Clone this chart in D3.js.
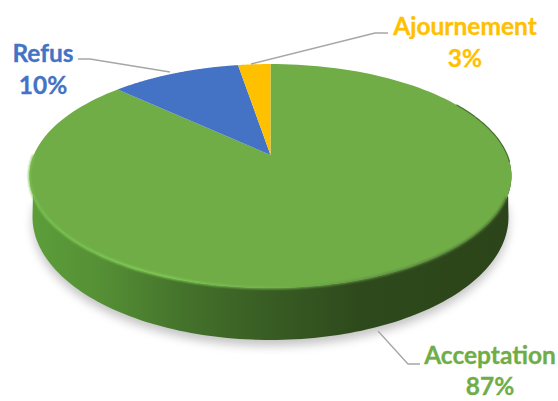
<!DOCTYPE html>
<html>
<head>
<meta charset="utf-8">
<script src="https://cdn.jsdelivr.net/npm/d3@7"></script>
<style>
  html, body { margin: 0; padding: 0; background: #fff; }
  svg { display: block; }
  text { font-family: Lato, "Open Sans", sans-serif; font-weight: 700; font-size: 24.5px; text-anchor: middle; stroke-width: 0.3; }
</style>
</head>
<body>
<div id="graph"></div>
<script>
// data
var categories = ["Acceptation", "Refus", "Ajournement"];
var shares = [87, 10.4, 2.6];

var colors = ["#70ad47", "#4472c4", "#ffc000"];
var svgWidth = 558, svgHeight = 401;

// label layout, same order as categories
var labelX = [490, 43, 465];
var labelY = [364, 62, 35];
var labelStep = [31, 32, 32];
var leaders = [
  [[378, 331], [408, 364], [420, 364]],
  [[78, 59], [90, 59], [170, 72]],
  [[388, 33], [375, 33], [251, 64]]
];

// tilted disc, the apex is not in the middle of the ellipse because of the perspective
var apex = {x: 270.5, y: 155};
var tilt = {rx: 236.7, ry: 108, k: 0.1875};
function project(a) {
  var u = Math.sin(a), v = Math.cos(a);
  var w = 1 + tilt.k * v;
  return [apex.x + tilt.rx * u / w, apex.y - tilt.ry * v / w];
}

// rim of the bottom of the disc
var base = {cx: 270.5, cy: 217, rx: 238, ry: 123};
function baseRim(a) {
  return [base.cx + base.rx * Math.sin(a), base.cy - base.ry * Math.cos(a)];
}

var line = d3.line();
function sweep(a0, a1, n) {
  return d3.range(n + 1).map(function(i) { return a0 + (a1 - a0) * i / n; });
}

var svg = d3.select("#graph").append("svg")
  .attr("width", svgWidth)
  .attr("height", svgHeight);

var defs = svg.append("defs");
function blur(id, s) {
  defs.append("filter").attr("id", id)
    .attr("x", "-10%").attr("y", "-10%").attr("width", "120%").attr("height", "120%")
    .append("feGaussianBlur").attr("stdDeviation", s);
}
blur("soft", 5);
blur("rim", 1.2);
blur("edge", 0.7);

// wall shading, left to right
var wallStops = [
  [0, "#5c9e3a"], [0.15, "#558f35"], [0.32, "#44722b"], [0.5, "#385c23"],
  [0.68, "#2e4a1c"], [1, "#2b4419"]
];
var wallGrad = defs.append("linearGradient").attr("id", "wall")
  .attr("gradientUnits", "userSpaceOnUse")
  .attr("x1", 30).attr("x2", 512).attr("y1", 0).attr("y2", 0);
wallGrad.selectAll("stop").data(wallStops).enter().append("stop")
  .attr("offset", function(d) { return d[0]; })
  .attr("stop-color", function(d) { return d[1]; });

var rimGrad = defs.append("linearGradient").attr("id", "rimLight")
  .attr("gradientUnits", "userSpaceOnUse")
  .attr("x1", 30).attr("x2", 512).attr("y1", 0).attr("y2", 0);
rimGrad.append("stop").attr("offset", 0).attr("stop-color", "#78c04e");
rimGrad.append("stop").attr("offset", 0.25).attr("stop-color", "#84d455");
rimGrad.append("stop").attr("offset", 0.5).attr("stop-color", "#74b44c");
rimGrad.append("stop").attr("offset", 0.8).attr("stop-color", "#55803a");
rimGrad.append("stop").attr("offset", 1).attr("stop-color", "#3f5f28");

// soft shadow under the disc
svg.append("path")
  .attr("d", line(sweep(Math.PI * 0.45, Math.PI * 1.55, 80).map(function(a) {
    var p = baseRim(a);
    return [p[0], p[1] + 6];
  })) + "Z")
  .attr("fill", "#8c8c8c")
  .attr("opacity", 0.5)
  .attr("filter", "url(#soft)");

// side wall
var front = sweep(Math.PI * 0.5, Math.PI * 1.5, 120);
var wallPts = front.map(baseRim).concat(front.slice().reverse().map(project));
svg.append("path")
  .attr("d", line(wallPts) + "Z")
  .attr("fill", "url(#wall)");

// slices
var pie = d3.pie().sort(null).value(function(d) { return d; });
var arcs = pie(shares);

svg.append("g").selectAll("path")
  .data(arcs)
  .enter().append("path")
  .attr("d", function(d) {
    var pts = sweep(d.startAngle, d.endAngle, 160).map(project);
    return line([[apex.x, apex.y]].concat(pts)) + "Z";
  })
  .attr("fill", function(d, i) { return colors[i]; });

// light bevel along the front of the top face
svg.append("path")
  .attr("d", line(sweep(Math.PI * 0.62, Math.PI * 1.5, 120).map(project)))
  .attr("fill", "none")
  .attr("stroke", "url(#rimLight)")
  .attr("stroke-width", 2.2)
  .attr("filter", "url(#rim)");

// dark edge at the far right
svg.append("path")
  .attr("d", line(sweep(Math.PI * 0.33, Math.PI * 0.52, 40).map(project)))
  .attr("fill", "none")
  .attr("stroke", "#44702b")
  .attr("stroke-width", 1.2)
  .attr("filter", "url(#edge)");

// leader lines
svg.append("g").selectAll("path")
  .data(leaders)
  .enter().append("path")
  .attr("d", function(d) { return line(d); })
  .attr("fill", "none")
  .attr("stroke", "#a6a6a6")
  .attr("stroke-width", 1.3);

// labels
var labels = svg.append("g").selectAll("g")
  .data(categories)
  .enter().append("g")
  .attr("fill", function(d, i) { return colors[i]; })
  .attr("stroke", function(d, i) { return colors[i]; });

labels.append("text")
  .attr("x", function(d, i) { return labelX[i]; })
  .attr("y", function(d, i) { return labelY[i]; })
  .text(function(d) { return d; });

labels.append("text")
  .attr("x", function(d, i) { return labelX[i]; })
  .attr("y", function(d, i) { return labelY[i] + labelStep[i]; })
  .text(function(d, i) { return Math.round(shares[i]) + "%"; });
</script>
</body>
</html>
